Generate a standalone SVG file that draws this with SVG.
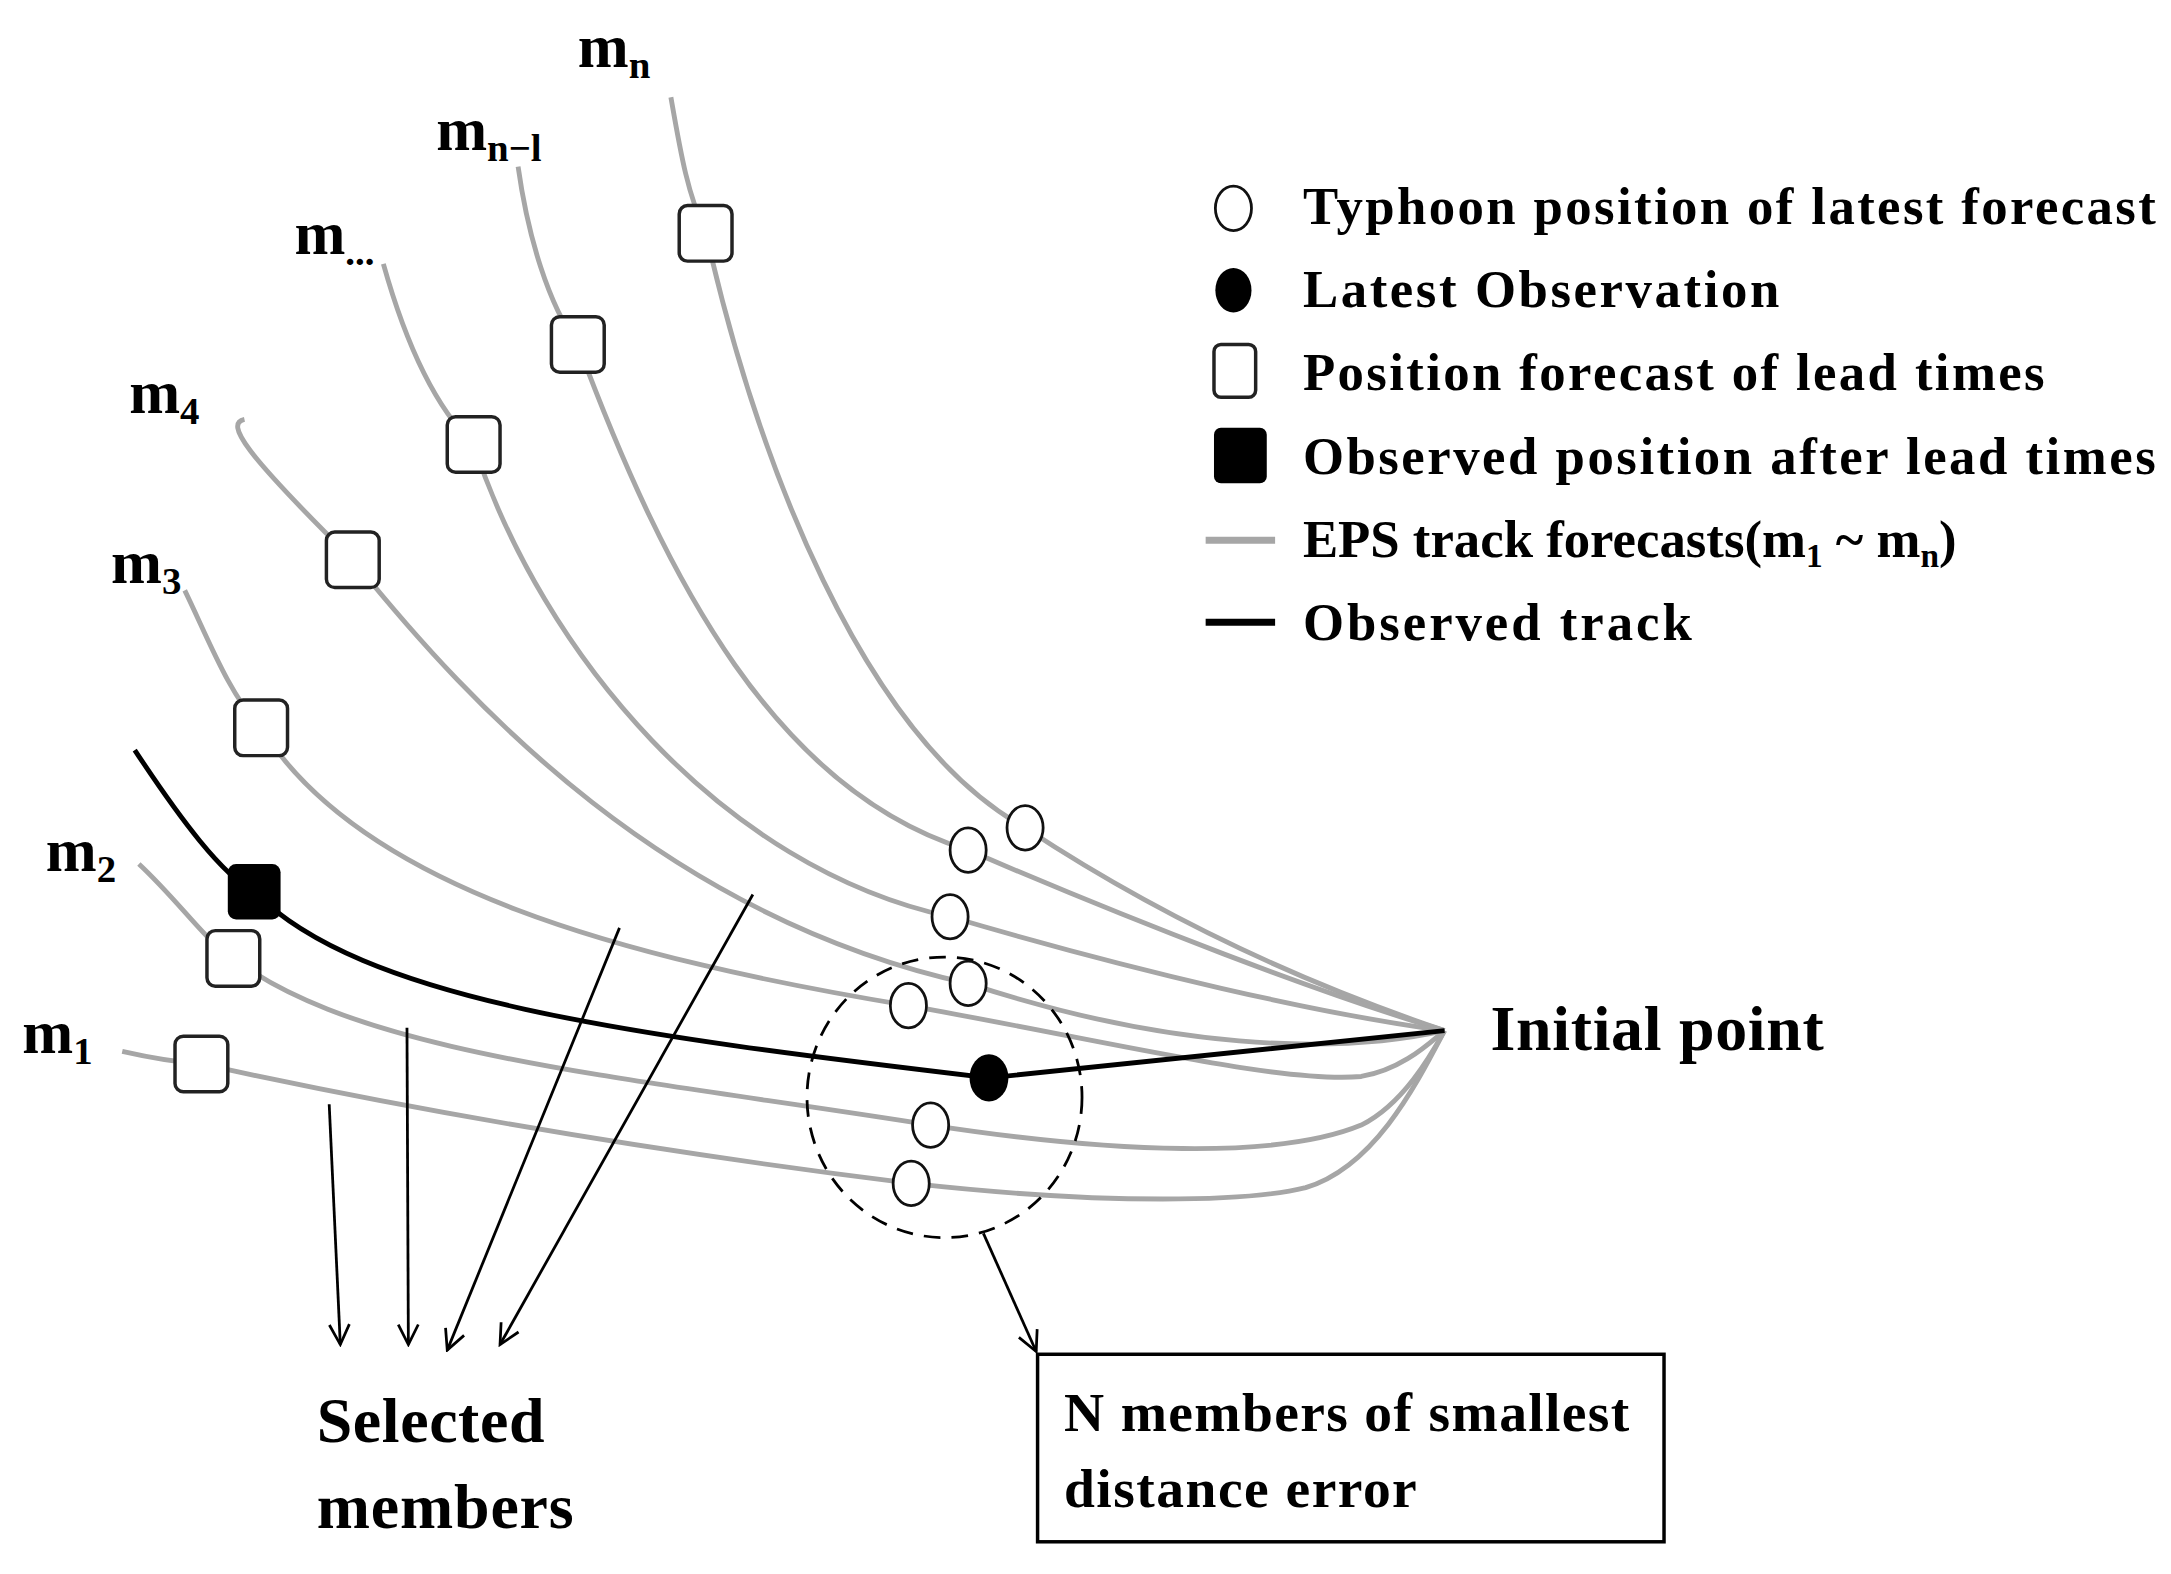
<svg xmlns="http://www.w3.org/2000/svg" width="2171" height="1574" viewBox="0 0 2171 1574">
<defs>
<style>
.t{font-family:"Liberation Serif","Times New Roman",serif;font-weight:bold;fill:#000}
.eps{fill:none;stroke:#a6a6a6;stroke-width:3.5}
.obs{fill:none;stroke:#000;stroke-width:3.5}
.arr{fill:none;stroke:#000;stroke-width:2;marker-end:url(#ah)}
.sq{fill:#fff;stroke:#222;stroke-width:2.5}
.oc{fill:#fff;stroke:#111;stroke-width:2}
</style>
<marker id="ah" viewBox="0 0 20 20" refX="18" refY="10" markerWidth="18" markerHeight="18" markerUnits="userSpaceOnUse" orient="auto"><path d="M2,2 L18,10 L2,18" fill="none" stroke="#000" stroke-width="2.2"/></marker>
</defs>
<rect width="2171" height="1574" fill="#fff"/>
<g transform="scale(1.389)">
<g id="connectors">
<path class="eps" d="M483,70 C490,110 495,140 508,167 C545,330 620,530 738,596 C850,670 960,715 1040,742"/>
<path class="eps" d="M373,120 C380,170 395,220 416,248 C480,420 560,570 697,612 C820,665 950,715 1040,742"/>
<path class="eps" d="M276,190 C290,240 310,290 341,320 C390,470 520,625 684,660 C820,700 950,730 1040,742"/>
<path class="eps" d="M176,302 C162,305 175,325 254,403 C340,510 480,660 697,708 C840,755 960,760 1040,742"/>
<path class="eps" d="M133,425 C150,460 165,500 188,524 C260,640 450,690 654,724 C800,750 920,780 980,775 C1010,770 1030,750 1040,742"/>
<path class="eps" d="M100,622 C130,650 150,680 168,690 C260,760 450,775 670,810 C800,830 920,835 980,810 C1010,795 1030,760 1040,742"/>
<path class="eps" d="M88,757 C110,762 130,765 145,766 C300,800 480,830 656,852 C800,868 900,865 940,855 C990,840 1020,780 1040,742"/>
<path class="obs" d="M97,540 C130,590 160,630 183,642 C260,720 450,745 712,776 L1040,742"/>
<line class="arr" x1="237" y1="795" x2="245" y2="968"/>
<line class="arr" x1="293" y1="740" x2="294" y2="968"/>
<line class="arr" x1="446" y1="668" x2="322" y2="972"/>
<line class="arr" x1="542" y1="644" x2="360" y2="968"/>
<line class="arr" x1="708" y1="888" x2="746" y2="973"/>
</g>
<g id="dashed-circle"><ellipse cx="680" cy="790" rx="99" ry="101" fill="none" stroke="#000" stroke-width="2" stroke-dasharray="12,8"/></g>
<g id="squares">
<rect class="sq" x="489" y="148" width="38" height="40" rx="6"/>
<rect class="sq" x="397" y="228" width="38" height="40" rx="6"/>
<rect class="sq" x="322" y="300" width="38" height="40" rx="6"/>
<rect class="sq" x="235" y="383" width="38" height="40" rx="6"/>
<rect class="sq" x="169" y="504" width="38" height="40" rx="6"/>
<rect class="sq" x="149" y="670" width="38" height="40" rx="6"/>
<rect class="sq" x="126" y="746" width="38" height="40" rx="6"/>
<rect x="164" y="622" width="38" height="40" rx="6" fill="#000"/>
</g>
<g id="forecast-circles">
<ellipse class="oc" cx="738" cy="596" rx="13" ry="16"/>
<ellipse class="oc" cx="697" cy="612" rx="13" ry="16"/>
<ellipse class="oc" cx="684" cy="660" rx="13" ry="16"/>
<ellipse class="oc" cx="697" cy="708" rx="13" ry="16"/>
<ellipse class="oc" cx="654" cy="724" rx="13" ry="16"/>
<ellipse class="oc" cx="670" cy="810" rx="13" ry="16"/>
<ellipse class="oc" cx="656" cy="852" rx="13" ry="16"/>
<ellipse cx="712" cy="776" rx="14" ry="17" fill="#000"/>
</g>
<g id="member-labels">
<text class="t" x="416" y="48" font-size="44">m<tspan font-size="28" dy="8">n</tspan></text>
<text class="t" x="314" y="108" font-size="44">m<tspan font-size="28" dy="8">n−l</tspan></text>
<text class="t" x="212" y="183" font-size="44">m<tspan font-size="28" dy="8">...</tspan></text>
<text class="t" x="93" y="297" font-size="44">m<tspan font-size="28" dy="8">4</tspan></text>
<text class="t" x="80" y="420" font-size="44">m<tspan font-size="28" dy="8">3</tspan></text>
<text class="t" x="33" y="627" font-size="44">m<tspan font-size="28" dy="8">2</tspan></text>
<text class="t" x="16" y="758" font-size="44">m<tspan font-size="28" dy="8">1</tspan></text>
</g>
<g id="initial-point"><text class="t" x="1073" y="756" font-size="46" textLength="240">Initial point</text></g>
<g id="selected-members">
<text class="t" x="228" y="1038" font-size="46" textLength="164">Selected</text>
<text class="t" x="228" y="1100" font-size="46" textLength="185">members</text>
</g>
<g id="result-box">
<rect x="747" y="975" width="451" height="135" fill="#fff" stroke="#000" stroke-width="2.5"/>
<text class="t" x="766" y="1030" font-size="40" textLength="407">N members of smallest</text>
<text class="t" x="766" y="1085" font-size="40" textLength="254">distance error</text>
</g>
<g id="legend">
<ellipse class="oc" cx="888" cy="150" rx="13" ry="16"/>
<ellipse cx="888" cy="209" rx="13" ry="16" fill="#000"/>
<rect class="sq" x="874" y="248" width="30" height="38" rx="5"/>
<rect x="874" y="308" width="38" height="40" rx="5" fill="#000"/>
<line x1="868" y1="389" x2="918" y2="389" stroke="#a6a6a6" stroke-width="5"/>
<line x1="868" y1="448" x2="918" y2="448" stroke="#000" stroke-width="5"/>
<text class="t" x="938" y="161" font-size="38" textLength="614">Typhoon position of latest forecast</text>
<text class="t" x="938" y="221" font-size="38" textLength="343">Latest Observation</text>
<text class="t" x="938" y="281" font-size="38" textLength="534">Position forecast of lead times</text>
<text class="t" x="938" y="341" font-size="38" textLength="614">Observed position after lead times</text>
<text class="t" x="938" y="401" font-size="38">EPS track forecasts(m<tspan font-size="24" dy="7">1</tspan><tspan dy="-7"> ~ m</tspan><tspan font-size="24" dy="7">n</tspan><tspan dy="-7">)</tspan></text>
<text class="t" x="938" y="461" font-size="38" textLength="280">Observed track</text>
</g>
</g>
</svg>
